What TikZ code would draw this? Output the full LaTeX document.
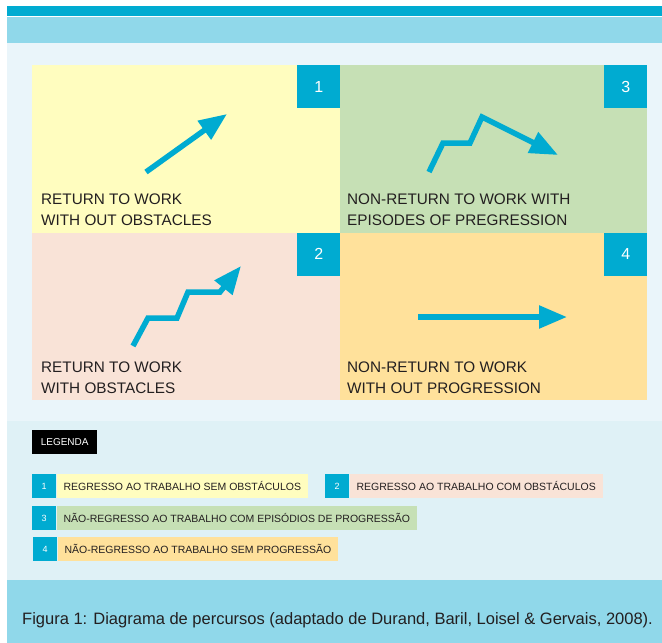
\documentclass[tikz,border=0pt]{standalone}
\usepackage{fontspec}
\setmainfont{Liberation Sans}
\usetikzlibrary{arrows.meta}
\definecolor{cyanbar}{HTML}{00ABD1}
\definecolor{lightbar}{HTML}{90D8EA}
\definecolor{panelbg}{HTML}{EAF5FA}
\definecolor{legendbg}{HTML}{DFF1F6}
\definecolor{yellowq}{HTML}{FFFDBF}
\definecolor{greenq}{HTML}{C6E0B5}
\definecolor{pinkq}{HTML}{F9E3D7}
\definecolor{orangeq}{HTML}{FFE19B}
\definecolor{inktext}{HTML}{231F20}
\tikzstyle{quadrant}=[inner sep=0pt,anchor=north west,minimum width=308pt,minimum height=167.5pt]
\tikzstyle{numbox}=[fill=cyanbar,text=white,minimum size=43pt,inner sep=0pt,font=\fontsize{16}{16}\selectfont,anchor=north east]
\tikzstyle{quadtext}=[anchor=base west,align=left,inner sep=0pt,text=inktext,font=\fontsize{15.3}{20.5}\selectfont]
\tikzstyle{trend}=[draw=cyanbar,line width=5.5pt,-{Triangle[length=28pt,width=22pt]}]
\tikzstyle{legtitle}=[fill=black,text=white,anchor=north west,minimum width=65pt,minimum height=24pt,inner sep=0pt,font=\fontsize{10}{10}\selectfont]
\tikzstyle{legnum}=[fill=cyanbar,text=white,anchor=north west,minimum width=24pt,minimum height=24pt,inner sep=0pt,font=\fontsize{9}{9}\selectfont]
\tikzstyle{legitem}=[anchor=west,minimum height=24pt,inner xsep=7pt,inner ysep=0pt,text=inktext,font=\fontsize{10.5}{10.5}\selectfont]

\begin{document}
\begin{tikzpicture}[x=1pt,y=-1pt]
    \useasboundingbox (0,0) rectangle (662,643);
    \fill[cyanbar] (7,6) rectangle (662,16);
    \fill[lightbar] (7,17) rectangle (662,43);
    \fill[panelbg] (7,43) rectangle (662,421);
    \fill[legendbg] (7,421) rectangle (662,580);
    \fill[lightbar] (7,580) rectangle (662,643);

    \node[quadrant,fill=yellowq] (q1) at (32,65) {};
    \node[quadrant,fill=greenq,minimum width=307pt] (q3) at (340,65) {};
    \node[quadrant,fill=pinkq] (q2) at (32,232.5) {};
    \node[quadrant,fill=orangeq,minimum width=307pt] (q4) at (340,232.5) {};
    \node[numbox] (n1) at (q1.north east) {1};
    \node[numbox] (n3) at (q3.north east) {3};
    \node[numbox] (n2) at (q2.north east) {2};
    \node[numbox] (n4) at (q4.north east) {4};

    \node[quadtext] (t1) at (41,225) {RETURN TO WORK\\WITH OUT OBSTACLES};
    \node[quadtext] (t3) at (347,225) {NON-RETURN TO WORK WITH\\EPISODES OF PREGRESSION};
    \node[quadtext] (t2) at (41,393) {RETURN TO WORK\\WITH OBSTACLES};
    \node[quadtext] (t4) at (347,393) {NON-RETURN TO WORK\\WITH OUT PROGRESSION};

    \draw[trend] (146,172) -- (227,114);
    \draw[trend] (429,172) -- (443,143) -- (470,143) -- (482,117) -- (558,155);
    \draw[trend] (133,346) -- (148,318) -- (177,318) -- (188,292) -- (220,292) -- (241,266);
    \draw[trend] (418,317) -- (567,317);

    \node[legtitle] (leg) at (32,430) {LEGENDA};
    \node[legnum] (l1) at (32,474) {1};
    \node[legitem,fill=yellowq] (i1) at (l1.east) {REGRESSO AO TRABALHO SEM OBSTÁCULOS};
    \node[legnum] (l2) at (325,474) {2};
    \node[legitem,fill=pinkq] (i2) at (l2.east) {REGRESSO AO TRABALHO COM OBSTÁCULOS};
    \node[legnum] (l3) at (32,506) {3};
    \node[legitem,fill=greenq] (i3) at (l3.east) {NÃO-REGRESSO AO TRABALHO COM EPISÓDIOS DE PROGRESSÃO};
    \node[legnum] (l4) at (33,537) {4};
    \node[legitem,fill=orangeq] (i4) at (l4.east) {NÃO-REGRESSO AO TRABALHO SEM PROGRESSÃO};

    \node[anchor=base west,inner sep=0pt,text=inktext,font=\fontsize{16.5}{16.5}\selectfont] (cap) at (22,624)
        {Figura 1: Diagrama de percursos (adaptado de Durand, Baril, Loisel \& Gervais, 2008).};
\end{tikzpicture}
\end{document}
